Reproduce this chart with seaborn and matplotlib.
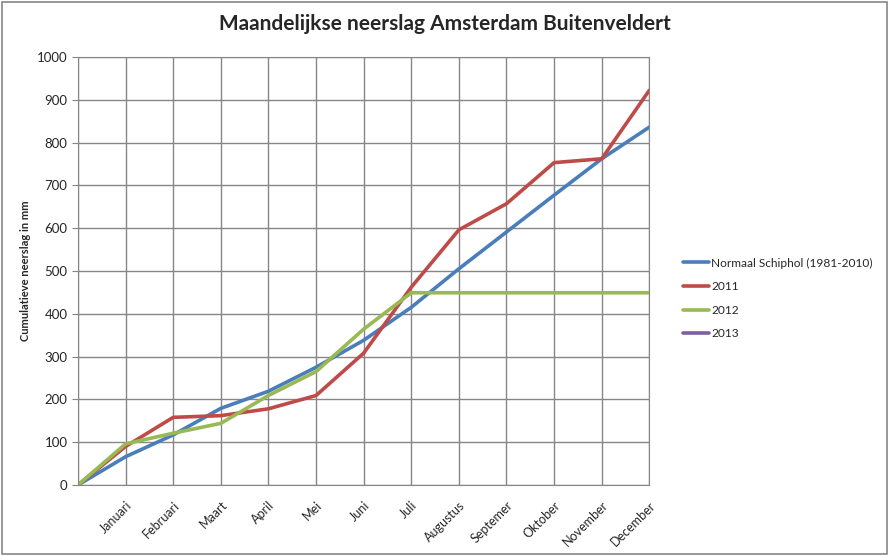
import matplotlib
matplotlib.use("Agg")
import matplotlib.pyplot as plt
from matplotlib.patches import Rectangle
import seaborn as sns
import numpy as np
import pandas as pd

# maanden (positie 0 = startpunt zonder label)
maanden = ["Januari", "Februari", "Maart", "April", "Mei", "Juni", "Juli",
           "Augustus", "Septemer", "Oktober", "November", "December"]

normaal = [0, 66, 117, 179, 219, 275, 338, 415, 505, 591, 677, 762, 836]
jaar_2011 = [0, 90, 158, 162, 178, 209, 308, 462, 596, 657, 753, 762, 922]
jaar_2012 = [0, 96, 121, 144, 209, 265, 364, 449, 449, 449, 449, 449, 449]
jaar_2013 = [np.nan] * 13

reeksen = {
    "Normaal Schiphol (1981-2010)": normaal,
    "2011": jaar_2011,
    "2012": jaar_2012,
    "2013": jaar_2013,
}
kleuren = {
    "Normaal Schiphol (1981-2010)": "#4A7EBB",
    "2011": "#BE4B48",
    "2012": "#98B954",
    "2013": "#7D60A0",
}

rijen = []
for naam, waarden in reeksen.items():
    for i, w in enumerate(waarden):
        rijen.append({"maand": i, "neerslag": w, "reeks": naam})
df = pd.DataFrame(rijen)

sns.set_style("white")
plt.rcParams["font.family"] = ["Lato", "DejaVu Sans"]

fig = plt.figure(figsize=(8.9, 5.56), dpi=100)
ax = fig.add_axes([0.0876, 0.1277, 0.642, 0.770])

sns.lineplot(data=df, x="maand", y="neerslag", hue="reeks",
             hue_order=list(reeksen.keys()), palette=kleuren,
             linewidth=2.6, ax=ax, legend=False)

ax.set_xlim(0, 12)
ax.set_ylim(0, 1000)
ax.set_xticks(range(13))
ax.set_xticklabels([""] + maanden, rotation=45, ha="right",
                   rotation_mode="anchor", fontsize=9)
ax.set_yticks(range(0, 1001, 100))
ax.tick_params(axis="y", labelsize=9.5, length=4, color="#868686", direction="out", left=True)
ax.tick_params(axis="x", length=0, pad=10)
ax.grid(True, color="#868686", linewidth=1)
ax.set_axisbelow(True)
for s in ax.spines.values():
    s.set_color("#868686")
ax.set_xlabel("")
ax.set_ylabel("Cumulatieve neerslag in mm", fontsize=8, fontweight="bold", labelpad=4)

fig.suptitle("Maandelijkse neerslag Amsterdam Buitenveldert", fontsize=15,
             fontweight="bold", x=0.5, y=0.975)

handles = [plt.Line2D([], [], color=kleuren[n], linewidth=2.6) for n in reeksen]
fig.legend(handles, list(reeksen.keys()), loc="upper left",
           bbox_to_anchor=(0.755, 0.556), frameon=False, fontsize=8.6,
           handlelength=2.2, handletextpad=0.2, labelspacing=1.05)

fig.patches.append(Rectangle((0.002, 0.004), 0.995, 0.993, transform=fig.transFigure,
                             fill=False, edgecolor="#868686", linewidth=1.2))

fig.savefig("out.png", dpi=100)
